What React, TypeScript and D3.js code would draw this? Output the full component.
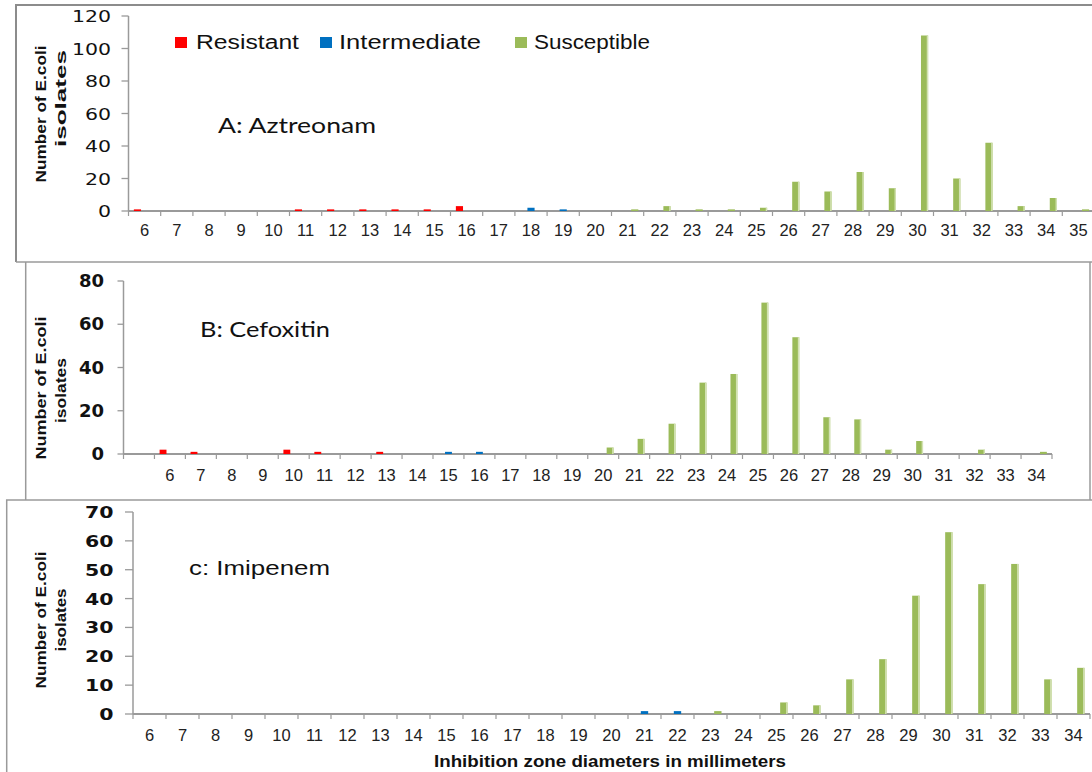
import React from 'react';
import * as d3 from 'd3';

// Inhibition zone diameters (mm) and isolate counts per interpretive category.
const aztreonamZones = ['6', '7', '8', '9', '10', '11', '12', '13', '14', '15', '16', '17', '18', '19', '20', '21', '22', '23', '24', '25', '26', '27', '28', '29', '30', '31', '32', '33', '34', '35'];
const aztreonamResistant = [1, 0, 0, 0, 0, 1, 1, 1, 1, 1, 3, 0, 0, 0, 0, 0, 0, 0, 0, 0, 0, 0, 0, 0, 0, 0, 0, 0, 0, 0];
const aztreonamIntermediate = [0, 0, 0, 0, 0, 0, 0, 0, 0, 0, 0, 0, 2, 1, 0, 0, 0, 0, 0, 0, 0, 0, 0, 0, 0, 0, 0, 0, 0, 0];
const aztreonamSusceptible = [0, 0, 0, 0, 0, 0, 0, 0, 0, 0, 0, 0, 0, 0, 0, 1, 3, 1, 1, 2, 18, 12, 24, 14, 108, 20, 42, 3, 8, 1];
const aztreonamTicks = [0, 20, 40, 60, 80, 100, 120];

const cefoxitinZones = ['', '6', '7', '8', '9', '10', '11', '12', '13', '14', '15', '16', '17', '18', '19', '20', '21', '22', '23', '24', '25', '26', '27', '28', '29', '30', '31', '32', '33', '34'];
const cefoxitinResistant = [0, 2, 1, 0, 0, 2, 1, 0, 1, 0, 0, 0, 0, 0, 0, 0, 0, 0, 0, 0, 0, 0, 0, 0, 0, 0, 0, 0, 0, 0];
const cefoxitinIntermediate = [0, 0, 0, 0, 0, 0, 0, 0, 0, 0, 1, 1, 0, 0, 0, 0, 0, 0, 0, 0, 0, 0, 0, 0, 0, 0, 0, 0, 0, 0];
const cefoxitinSusceptible = [0, 0, 0, 0, 0, 0, 0, 0, 0, 0, 0, 0, 0, 0, 0, 3, 7, 14, 33, 37, 70, 54, 17, 16, 2, 6, 0, 2, 0, 1];
const cefoxitinTicks = [0, 20, 40, 60, 80];

const imipenemZones = ['6', '7', '8', '9', '10', '11', '12', '13', '14', '15', '16', '17', '18', '19', '20', '21', '22', '23', '24', '25', '26', '27', '28', '29', '30', '31', '32', '33', '34'];
const imipenemResistant = [0, 0, 0, 0, 0, 0, 0, 0, 0, 0, 0, 0, 0, 0, 0, 0, 0, 0, 0, 0, 0, 0, 0, 0, 0, 0, 0, 0, 0];
const imipenemIntermediate = [0, 0, 0, 0, 0, 0, 0, 0, 0, 0, 0, 0, 0, 0, 0, 1, 1, 0, 0, 0, 0, 0, 0, 0, 0, 0, 0, 0, 0];
const imipenemSusceptible = [0, 0, 0, 0, 0, 0, 0, 0, 0, 0, 0, 0, 0, 0, 0, 0, 0, 1, 0, 4, 3, 12, 19, 41, 63, 45, 52, 12, 16];
const imipenemTicks = [0, 10, 20, 30, 40, 50, 60, 70];

const seriesNames = ['Resistant', 'Intermediate', 'Susceptible'];
const seriesColors = ['#FF0000', '#0070C0', '#9BBB59'];

const AXIS_GREY = '#9a9a9a';
const SANS = '"Liberation Sans", Arial, sans-serif';

type PanelSpec = {
  title: string;
  titleFont: string;
  titleX: number;
  titleY: number;
  titleLen: number;
  zones: string[];
  series: number[][];
  ticks: number[];
  x0: number;
  x1: number;
  yBase: number;
  yTop: number;
  labelRight: number;
  tickLen: number;
  labelBaseline: number;
  yLabelBold: boolean;
  yLabelSize: number;
  yLabelStretch: number;
  endTick: boolean;
  yTitle: { center1: number; len1: number; center2: number; len2: number };
};

const panels: PanelSpec[] = [
  {
    title: 'A: Aztreonam', titleFont: 'Lato, "Open Sans", sans-serif', titleX: 218, titleY: 133, titleLen: 158,
    zones: aztreonamZones,
    series: [aztreonamResistant, aztreonamIntermediate, aztreonamSusceptible],
    ticks: aztreonamTicks,
    x0: 128.5, x1: 1094.5, yBase: 211, yTop: 16,
    labelRight: 111, tickLen: 7, labelBaseline: 236,
    yLabelBold: false, yLabelSize: 16, yLabelStretch: 1.28, endTick: false,
    yTitle: { center1: 114, len1: 137, center2: 98.5, len2: 97 },
  },
  {
    title: 'B: Cefoxitin', titleFont: 'Lato, "Open Sans", sans-serif', titleX: 200, titleY: 337, titleLen: 130,
    zones: cefoxitinZones,
    series: [cefoxitinResistant, cefoxitinIntermediate, cefoxitinSusceptible],
    ticks: cefoxitinTicks,
    x0: 123.5, x1: 1052, yBase: 454, yTop: 281,
    labelRight: 104, tickLen: 6, labelBaseline: 481,
    yLabelBold: true, yLabelSize: 18, yLabelStretch: 1.0, endTick: true,
    yTitle: { center1: 388, len1: 143, center2: 390.5, len2: 65 },
  },
  {
    title: 'c: Imipenem', titleFont: SANS, titleX: 189, titleY: 575, titleLen: 141,
    zones: imipenemZones,
    series: [imipenemResistant, imipenemIntermediate, imipenemSusceptible],
    ticks: imipenemTicks,
    x0: 133, x1: 1090, yBase: 714, yTop: 512,
    labelRight: 113.6, tickLen: 8, labelBaseline: 741,
    yLabelBold: true, yLabelSize: 16, yLabelStretch: 1.28, endTick: true,
    yTitle: { center1: 620, len1: 137, center2: 620, len2: 63 },
  },
];

function Panel({ p }: { p: PanelSpec }) {
  const x = d3.scaleBand<string>().domain(p.zones).range([p.x0, p.x1]).paddingInner(0).paddingOuter(0);
  // Excel-style clustered columns: 150% gap width between clusters
  const inner = d3.scaleBand<string>().domain(seriesNames).range([0, x.bandwidth()]).paddingInner(0).paddingOuter(0.75);
  const yMax = p.ticks[p.ticks.length - 1];
  const y = d3.scaleLinear().domain([0, yMax]).range([p.yBase, p.yTop]);

  const boundaries = p.zones.map((z) => x(z) as number);
  if (p.endTick) boundaries.push(p.x1);

  return (
    <g>
      {/* value axis */}
      <line x1={p.x0} x2={p.x0} y1={y(0)} y2={y(yMax)} stroke={AXIS_GREY} strokeWidth={1.5} />
      {p.ticks.map((t) => (
        <g key={`yt${t}`}>
          <line x1={p.x0 - p.tickLen} x2={p.x0} y1={y(t)} y2={y(t)} stroke={AXIS_GREY} strokeWidth={1.3} />
          <text
            transform={`translate(${p.labelRight},${y(t) + 6}) scale(${p.yLabelStretch},1)`}
            textAnchor="end"
            fontFamily='"DejaVu Sans", Verdana, sans-serif'
            fontWeight={p.yLabelBold ? 'bold' : 'normal'}
            fontSize={p.yLabelSize}
            fill="#111"
          >
            {t}
          </text>
        </g>
      ))}

      {/* category axis */}
      <line x1={p.x0} x2={Math.min(p.x1, 1092)} y1={y(0)} y2={y(0)} stroke={AXIS_GREY} strokeWidth={1.8} />
      {boundaries.map((b, i) => (
        <line key={`xt${i}`} x1={b} x2={b} y1={y(0)} y2={y(0) + 5} stroke={AXIS_GREY} strokeWidth={1.2} />
      ))}
      {p.zones.map((z) => (
        <text
          key={`xl${z}`}
          x={(x(z) as number) + x.bandwidth() / 2}
          y={p.labelBaseline}
          textAnchor="middle"
          fontFamily={SANS}
          fontSize={16.5}
          fill="#222"
        >
          {z}
        </text>
      ))}

      {/* columns */}
      {p.series.map((vals, si) =>
        vals.map((v, i) => {
          if (v <= 0) return null;
          const z = p.zones[i];
          const bx = (x(z) as number) + (inner(seriesNames[si]) as number);
          const bw = inner.bandwidth();
          const top = y(v);
          const h = y(0) - top;
          return (
            <g key={`b${si}-${i}`}>
              <rect x={bx} y={top} width={bw} height={h} fill={seriesColors[si]} />
              {si === 2 && h > 3 && (
                <rect x={bx + bw - 1.4} y={top} width={1.4} height={h} fill="#D3E2B3" />
              )}
            </g>
          );
        })
      )}

      {/* panel label */}
      <text
        x={p.titleX}
        y={p.titleY}
        fontFamily={p.titleFont}
        fontSize={21}
        fill="#111"
        textLength={p.titleLen}
        lengthAdjust="spacingAndGlyphs"
      >
        {p.title}
      </text>

      {/* value axis title */}
      <text
        transform={`translate(46,${p.yTitle.center1}) rotate(-90)`}
        textAnchor="middle"
        fontFamily={SANS}
        fontWeight="bold"
        fontSize={15}
        fill="#111"
        textLength={p.yTitle.len1}
        lengthAdjust="spacingAndGlyphs"
      >
        Number of E.coli
      </text>
      <text
        transform={`translate(66,${p.yTitle.center2}) rotate(-90)`}
        textAnchor="middle"
        fontFamily={SANS}
        fontWeight="bold"
        fontSize={15}
        fill="#111"
        textLength={p.yTitle.len2}
        lengthAdjust="spacingAndGlyphs"
      >
        isolates
      </text>
    </g>
  );
}

// Legend entries placed along the top of the first panel
const legendItems = [
  { marker: 175, text: 196, len: 103 },
  { marker: 320, text: 339, len: 142 },
  { marker: 515, text: 534, len: 116 },
];

export default function App() {
  return (
    <svg
      width={1092}
      height={772}
      viewBox="0 0 1092 772"
      style={{ position: 'absolute', left: 0, top: 0, background: '#fff' }}
    >
      <rect x={0} y={0} width={1092} height={772} fill="#fff" />

      {/* panel frames */}
      <path d="M16,262 V5 H1092" fill="none" stroke="#8c8c8c" strokeWidth={2} />
      <path d="M16,262 H1092" fill="none" stroke={AXIS_GREY} strokeWidth={1.5} />
      <path d="M25.7,262 V500 M1090,262 V500" fill="none" stroke={AXIS_GREY} strokeWidth={1.5} />
      <path d="M6.7,772 V500 H1092" fill="none" stroke={AXIS_GREY} strokeWidth={1.5} />

      {panels.map((p) => (
        <Panel key={p.title} p={p} />
      ))}

      {legendItems.map((l, i) => (
        <g key={seriesNames[i]}>
          <rect x={l.marker} y={37} width={12} height={11} fill={seriesColors[i]} />
          <text
            x={l.text}
            y={49}
            fontFamily={SANS}
            fontSize={19.5}
            fill="#111"
            textLength={l.len}
            lengthAdjust="spacingAndGlyphs"
          >
            {seriesNames[i]}
          </text>
        </g>
      ))}

      <text
        x={610}
        y={767}
        textAnchor="middle"
        fontFamily={SANS}
        fontWeight="bold"
        fontSize={16}
        fill="#111"
        textLength={352}
        lengthAdjust="spacingAndGlyphs"
      >
        Inhibition zone diameters in millimeters
      </text>
    </svg>
  );
}
